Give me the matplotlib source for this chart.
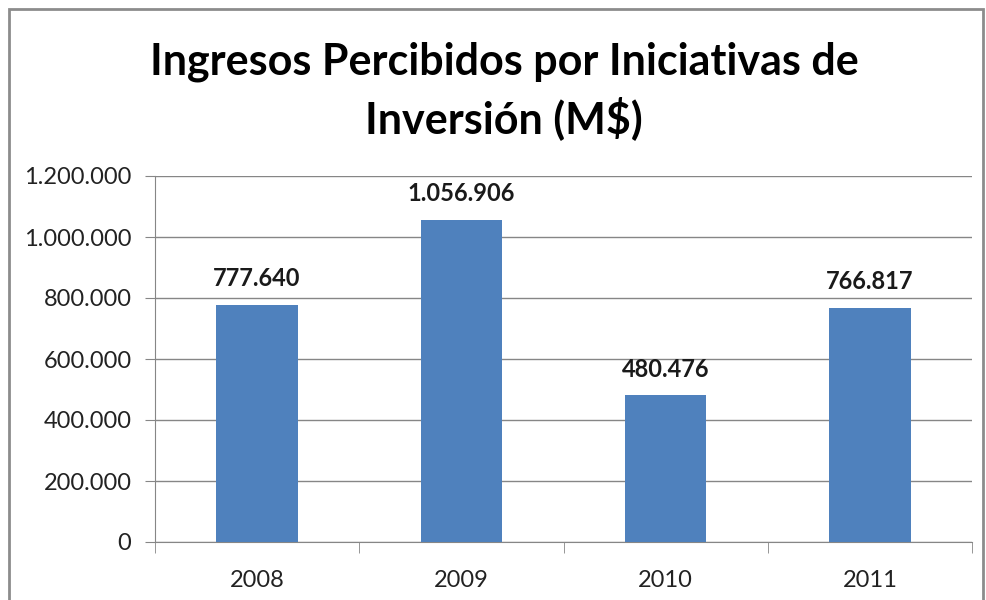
import matplotlib
matplotlib.use("Agg")
import matplotlib.pyplot as plt
from matplotlib.patches import Rectangle
from matplotlib.ticker import FuncFormatter

years = ["2008", "2009", "2010", "2011"]
ingresos = [777640, 1056906, 480476, 766817]
yticks = [0, 200000, 400000, 600000, 800000, 1000000, 1200000]

plt.rcParams['font.family'] = ['Lato', 'DejaVu Sans']

def miles(v, pos=None):
    return "{:,.0f}".format(v).replace(",", ".")

fig = plt.figure(figsize=(9.86, 6.0), dpi=100)
ax = fig.add_axes([155/986, 1 - 542/600, (972 - 155)/986, (542 - 176)/600])

x = range(len(years))
ax.bar(x, ingresos, width=0.4, color="#4F81BD", zorder=3)
for i, v in zip(x, ingresos):
    ax.text(i, v + 48000, miles(v), ha="center", va="bottom",
            fontsize=17, fontweight="bold", color="#1a1a1a")

ax.set_xlim(-0.5, len(years) - 0.5)
ax.set_ylim(0, 1200000)
ax.set_yticks(yticks)
ax.yaxis.set_major_formatter(FuncFormatter(miles))
ax.set_xticks(list(x))
ax.set_xticklabels(years)
ax.set_xticks([i - 0.5 for i in range(len(years) + 1)], minor=True)
ax.grid(axis="y", color="#868686", linewidth=1, zorder=0)
ax.tick_params(axis="y", length=7, color="#868686", labelsize=17, pad=10,
               labelcolor="#222222")
ax.tick_params(axis="x", which="major", length=0, labelsize=17, pad=20,
               labelcolor="#222222")
ax.tick_params(axis="x", which="minor", length=8, color="#868686")
for s in ["top", "right"]:
    ax.spines[s].set_visible(False)
ax.spines["left"].set_color("#868686")
ax.spines["bottom"].set_color("#868686")

fig.text(504/986, 1 - 62/600, "Ingresos Percibidos por Iniciativas de",
         ha="center", va="center", fontsize=31, fontweight="bold", color="black")
fig.text(504/986, 1 - 118/600, "Inversión (M$)",
         ha="center", va="center", fontsize=31, fontweight="bold", color="black")

fig.patches.append(Rectangle((9/986, -0.1), 974/986, 1.1 - 9/600,
                             transform=fig.transFigure, fill=False,
                             edgecolor="#8c8c8c", linewidth=2))

fig.savefig("out.png", dpi=100)
